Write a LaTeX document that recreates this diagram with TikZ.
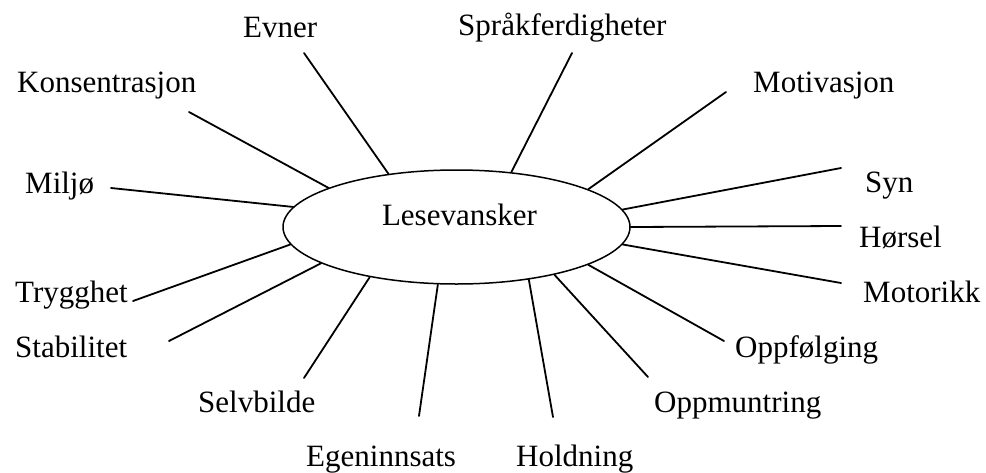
\documentclass[tikz,border=0pt]{standalone}
\usepackage{fontspec}
\setmainfont{Liberation Serif}
\usetikzlibrary{shapes.geometric}
\tikzset{
    word/.style={anchor=base west,inner sep=0pt,font=\fontsize{31}{36}\selectfont},
    spoke/.style={line width=1.8pt,line cap=round}
}
\begin{document}
\begin{tikzpicture}[x=1pt,y=-1pt]
        \useasboundingbox (0,0) rectangle (986,472);
        %% centre
        \node[draw,ellipse,line width=1.5pt,minimum width=347pt,minimum height=114pt] (ell) at (456.5,227) {};
        \node[word,anchor=base] (lese) at (459.5,225) {Lesevansker};
        %% factors round it
        \foreach \n/\t/\lx/\ly/\a/\ex/\ey in {
            evner/Evner/243/37/142/304/53,
            sprak/Språkferdigheter/458/35/45/572/53,
            kons/Konsentrasjon/17/92/163.6/189/112,
            motiv/Motivasjon/753/92/16/726/92,
            miljo/Miljø/25/193/173.3/111/188,
            syn/Syn/865/192/6.6/841/168,
            horsel/Hørsel/859/247/0/841/226,
            motor/Motorikk/863/302/354/841/283,
            trygg/Trygghet/15/302/186/133/301,
            stab/Stabilitet/15/357/195.7/169/341,
            selv/Selvbilde/198/412/210.6/304/378,
            egen/Egeninnsats/306/466/252.6/419/416,
            hold/Holdning/516/466/324.5/553/417,
            muntr/Oppmuntring/654/412/334.3/648/377,
            folg/Oppfølging/735/357/344.3/724/341} {
            \node[word] (\n) at (\lx,\ly) {\t};
            \coordinate (\n-tip) at (\ex,\ey);
            \draw[spoke] (ell.\a) -- (\n-tip);
        }
\end{tikzpicture}
\end{document}
